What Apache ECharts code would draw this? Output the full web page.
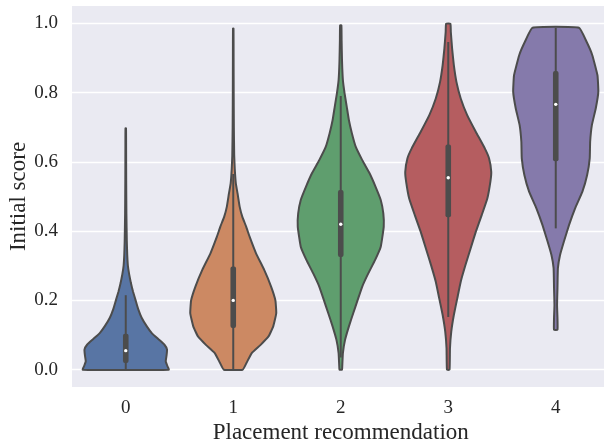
<!DOCTYPE html>
<html>
<head>
<meta charset="utf-8">
<script src="https://cdn.jsdelivr.net/npm/echarts@6/dist/echarts.min.js"></script>
<style>
  html, body { margin: 0; padding: 0; background: #ffffff; }
  #chart { width: 604px; height: 444px; }
</style>
</head>
<body>
<div id="chart"></div>
<script>
// Groups on the x axis
const categories = ['0', '1', '2', '3', '4'];

// Kernel density outline of each group: [score, half-width relative to the widest point]
const violin0 = [[0.000, 1.00], [0.010, 0.97], [0.024, 0.93], [0.042, 0.95], [0.058, 0.96], [0.072, 0.90],
  [0.088, 0.76], [0.105, 0.61], [0.125, 0.49], [0.150, 0.37], [0.175, 0.29], [0.200, 0.23], [0.225, 0.17],
  [0.250, 0.12], [0.275, 0.08], [0.300, 0.05], [0.330, 0.035], [0.370, 0.025], [0.450, 0.015],
  [0.550, 0.010], [0.650, 0.008], [0.697, 0.006]];
const violin1 = [[0.000, 0.22], [0.020, 0.31], [0.048, 0.43], [0.071, 0.63], [0.096, 0.82], [0.125, 0.93],
  [0.163, 1.00], [0.200, 0.98], [0.240, 0.88], [0.288, 0.72], [0.336, 0.53], [0.384, 0.38], [0.413, 0.30],
  [0.442, 0.21], [0.470, 0.15], [0.509, 0.10], [0.538, 0.06], [0.580, 0.035], [0.620, 0.022],
  [0.700, 0.014], [0.800, 0.010], [0.900, 0.008], [0.985, 0.006]];
const violin2 = [[0.000, 0.03], [0.010, 0.035], [0.048, 0.05], [0.086, 0.10], [0.125, 0.19], [0.163, 0.29],
  [0.200, 0.39], [0.240, 0.50], [0.278, 0.64], [0.317, 0.80], [0.355, 0.93], [0.413, 1.00], [0.451, 0.99],
  [0.490, 0.93], [0.528, 0.81], [0.567, 0.67], [0.605, 0.50], [0.643, 0.35], [0.682, 0.26], [0.720, 0.19],
  [0.759, 0.14], [0.797, 0.09], [0.836, 0.05], [0.890, 0.03], [0.950, 0.02], [0.994, 0.015]];
const violin3 = [[0.000, 0.03], [0.062, 0.04], [0.110, 0.07], [0.158, 0.13], [0.206, 0.21], [0.254, 0.29],
  [0.302, 0.40], [0.350, 0.52], [0.398, 0.64], [0.447, 0.78], [0.495, 0.91], [0.543, 0.98], [0.571, 1.00],
  [0.610, 0.95], [0.639, 0.85], [0.687, 0.64], [0.735, 0.44], [0.783, 0.29], [0.831, 0.19], [0.879, 0.13],
  [0.927, 0.09], [0.975, 0.06], [0.999, 0.05]];
const violin4 = [[0.115, 0.04], [0.150, 0.04], [0.187, 0.03], [0.235, 0.04], [0.293, 0.05], [0.331, 0.10],
  [0.370, 0.19], [0.418, 0.31], [0.466, 0.45], [0.514, 0.62], [0.562, 0.73], [0.610, 0.79], [0.658, 0.80],
  [0.706, 0.84], [0.754, 0.93], [0.802, 0.99], [0.850, 0.97], [0.908, 0.85], [0.946, 0.72], [0.987, 0.54]];

// Inner box summary per group
const whiskerLow  = [0.000, 0.000, 0.035, 0.152, 0.408];
const quartile1   = [0.019, 0.120, 0.325, 0.440, 0.602];
const median      = [0.055, 0.200, 0.420, 0.554, 0.766];
const quartile3   = [0.104, 0.298, 0.519, 0.650, 0.862];
const whiskerHigh = [0.215, 0.565, 0.790, 0.946, 0.987];

// Y axis tick values
const yTicks = [0.0, 0.2, 0.4, 0.6, 0.8, 1.0];

const profiles = [violin0, violin1, violin2, violin3, violin4];
const fillColors = ['#5875a4', '#cc8963', '#5f9e6e', '#b55d60', '#857aab'];
const edgeColor = '#4c4c4c';
const textColor = '#262626';
const serif = '"Liberation Serif", "DejaVu Serif", serif';

function renderViolin(params, api) {
  const i = api.value(0);
  const prof = profiles[i];
  const band = api.size([1, 0])[0];
  const half = band * 0.4;
  const cx = api.coord([i, 0])[0];
  const yOf = v => api.coord([i, v])[1];

  const right = prof.map(p => [cx + p[1] * half, yOf(p[0])]);
  const left = prof.slice().reverse().map(p => [cx - p[1] * half, yOf(p[0])]);

  const boxTop = yOf(quartile3[i]);
  const boxBottom = yOf(quartile1[i]);

  return {
    type: 'group',
    children: [
      {
        type: 'polygon',
        shape: { points: right.concat(left), smooth: 0.12 },
        style: { fill: fillColors[i], stroke: edgeColor, lineWidth: 2, lineJoin: 'round' }
      },
      {
        type: 'line',
        shape: { x1: cx, y1: yOf(whiskerLow[i]), x2: cx, y2: yOf(whiskerHigh[i]) },
        style: { stroke: edgeColor, lineWidth: 2 }
      },
      {
        type: 'rect',
        shape: { x: cx - 2.8, y: boxTop, width: 5.6, height: boxBottom - boxTop, r: 2 },
        style: { fill: edgeColor }
      },
      {
        type: 'circle',
        shape: { cx: cx, cy: yOf(median[i]), r: 1.7 },
        style: { fill: '#ffffff' }
      }
    ]
  };
}

const chart = echarts.init(document.getElementById('chart'), null, { renderer: 'canvas' });
chart.setOption({
  animation: false,
  backgroundColor: '#ffffff',
  grid: {
    left: 72, top: 6, width: 537.5, height: 381,
    outerBoundsMode: 'none',
    containLabel: false,
    show: true, backgroundColor: '#eaeaf2', borderWidth: 0
  },
  xAxis: {
    type: 'category',
    data: categories,
    boundaryGap: true,
    name: 'Placement recommendation',
    nameLocation: 'middle',
    nameGap: 34,
    nameMoveOverlap: false,
    nameTextStyle: { fontFamily: serif, fontSize: 23, color: textColor },
    axisLine: { show: false },
    axisTick: { show: false },
    splitLine: { show: false },
    axisLabel: { fontFamily: serif, fontSize: 19, color: textColor, margin: 12 }
  },
  yAxis: {
    type: 'value',
    min: -0.05,
    max: 1.05,
    splitNumber: 5,
    name: 'Initial score',
    nameLocation: 'middle',
    nameGap: 42,
    nameMoveOverlap: false,
    nameTextStyle: { fontFamily: serif, fontSize: 23, color: textColor },
    axisLine: { show: false },
    axisTick: { show: false },
    splitLine: { show: true, showMinLine: false, showMaxLine: false, lineStyle: { color: '#ffffff', width: 1.3 } },
    axisLabel: {
      fontFamily: serif, fontSize: 19, color: textColor, margin: 14,
      showMinLabel: false, showMaxLabel: false,
      formatter: v => {
        const hit = yTicks.find(t => Math.abs(t - v) < 1e-6);
        return hit === undefined ? '' : hit.toFixed(1);
      }
    }
  },
  series: [{
    type: 'custom',
    renderItem: renderViolin,
    data: categories.map((c, i) => [i]),
    encode: { x: 0 },
    clip: false,
    z: 3
  }]
});
</script>
</body>
</html>
